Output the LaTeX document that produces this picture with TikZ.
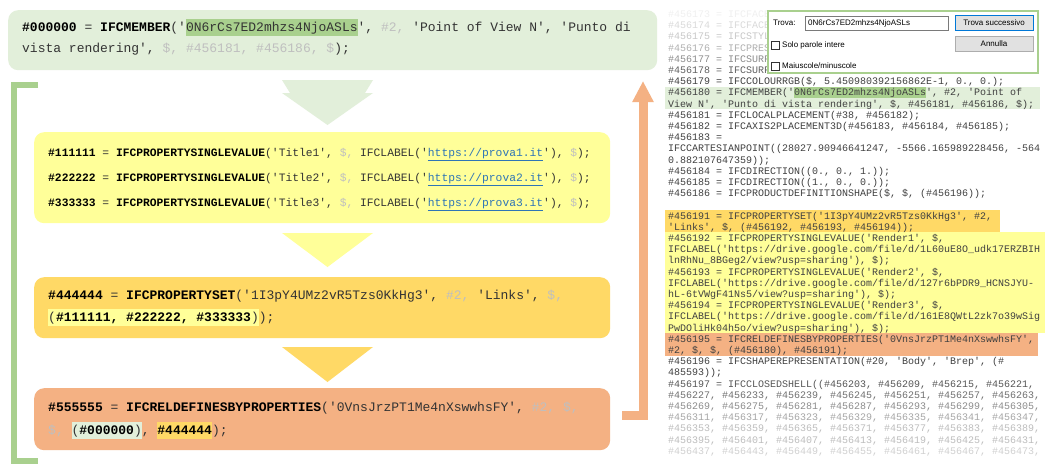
\documentclass[tikz,border=0pt]{standalone}
\usepackage{fontspec}
\setmonofont{Liberation Mono}
\setsansfont{Liberation Sans}
\usetikzlibrary{arrows.meta}

\definecolor{mbrfill}{HTML}{E2EFDA}
\definecolor{mbrmark}{HTML}{A9D08E}
\definecolor{psvfill}{HTML}{FFFF99}
\definecolor{psetfill}{HTML}{FFD966}
\definecolor{relfill}{HTML}{F4B183}
\definecolor{codeink}{HTML}{333333}
\definecolor{dimink}{HTML}{BFBFBF}
\definecolor{linkblue}{HTML}{2E75B6}
\definecolor{panelink}{HTML}{404040}
\definecolor{fadeA}{HTML}{F0F0F0}
\definecolor{fadeB}{HTML}{DADADA}
\definecolor{fadeC}{HTML}{C8C8C8}
\definecolor{fadeD}{HTML}{B0B0B0}
\definecolor{fadeE}{HTML}{8C8C8C}
\definecolor{fadeF}{HTML}{606060}
\definecolor{tailA}{HTML}{555555}
\definecolor{tailB}{HTML}{707070}
\definecolor{tailC}{HTML}{8C8C8C}
\definecolor{tailD}{HTML}{A6A6A6}
\definecolor{tailE}{HTML}{BDBDBD}
\definecolor{tailF}{HTML}{D0D0D0}
\definecolor{tailG}{HTML}{E4E4E4}
\definecolor{winblue}{HTML}{0078D7}
\definecolor{btnface}{HTML}{E1E1E1}
\definecolor{btnedge}{HTML}{ADADAD}
\definecolor{fieldedge}{HTML}{7A7A7A}

% inline helpers for the code snippets
\newcommand\kwd[1]{\textbf{\textcolor{black}{#1}}}
\newcommand\dimtxt[1]{\textcolor{dimink}{#1}}
\newcommand\urltxt[1]{\textcolor{linkblue}{\underline{#1}}}
\newcommand\hlbox[2]{{\setlength{\fboxsep}{0pt}\colorbox{#1}{\rule[-4pt]{0pt}{17pt}#2}}}
\newcommand\pline[4]{\node[pnl, text=#2] (#1) at (668,#3) {#4};}

\tikzset{
  card/.style={rounded corners=10pt, inner sep=0pt, anchor=north west},
  codeL/.style={anchor=base west, inner sep=0pt, text=codeink,
    font=\ttfamily\fontsize{13}{20}\selectfont},
  codeS/.style={anchor=base west, inner sep=0pt, text=codeink,
    font=\ttfamily\fontsize{11.3}{18}\selectfont},
  pnl/.style={anchor=base west, inner sep=0pt,
    font=\ttfamily\fontsize{10}{11}\selectfont},
  greenbar/.style={draw=mbrmark, line width=6pt, line cap=butt, line join=miter},
  orangebar/.style={draw=relfill, line width=9pt, line cap=butt, line join=miter,
    -{Triangle[width=20pt,length=21pt]}},
  dtxt/.style={anchor=west, inner sep=0pt, font=\sffamily\fontsize{8}{9}\selectfont, text=black},
  btn/.style={fill=btnface, line width=0.8pt, minimum width=78pt, minimum height=15pt,
    inner sep=0pt, font=\sffamily\fontsize{8}{9}\selectfont},
  chkbox/.style={draw=black!80, fill=white, line width=0.6pt, minimum size=7.5pt, inner sep=0pt}
}

\begin{document}
\begin{tikzpicture}[x=1pt,y=-1pt]
\useasboundingbox (0,0) rectangle (1049,463);
\fill[white] (0,0) rectangle (1049,463);

% ---------------- left: the chain of entities ----------------
\node[card, fill=mbrfill, minimum width=649pt, minimum height=60pt] (mbr) at (8,10) {};
\node[card, fill=psvfill, minimum width=576pt, minimum height=91pt] (psv) at (34,132) {};
\node[card, fill=psetfill, minimum width=576pt, minimum height=61pt] (pset) at (34,277) {};
\node[card, fill=relfill, minimum width=576pt, minimum height=62pt] (rel) at (34,388) {};

% down chevrons between the cards
\fill[mbrfill] (282,80) -- (373,80) -- (365,93) -- (290,93) -- cycle;
\fill[mbrfill] (282,93) -- (373,93) -- (327.5,125) -- cycle;
\fill[psvfill] (282,233) -- (373,233) -- (327.5,267) -- cycle;
\fill[psetfill] (282,347) -- (373,347) -- (327.5,382) -- cycle;

% bracket on the left
\coordinate (gTop) at (38,85);
\coordinate (gBot) at (38,461);
\draw[greenbar] (gTop) -- ++(-24,0) |- (gBot);

% return arrow on the right
\coordinate (oStart) at (622,415);
\coordinate (oTip) at (643,81);
\draw[orangebar] (oStart) -| (oTip);

% code text
\node[codeL] (mbr1) at (22,31.5) {\kwd{\#000000} = \kwd{IFCMEMBER}('\hlbox{mbrmark}{0N6rCs7ED2mhzs4NjoASLs}', \dimtxt{\#2,} 'Point of View N', 'Punto di};
\node[codeL] (mbr2) at (22,52.5) {vista rendering', \dimtxt{\$, \#456181, \#456186, \$});};

\node[codeS] (psv1) at (48,156) {\kwd{\#111111} = \kwd{IFCPROPERTYSINGLEVALUE}('Title1', \dimtxt{\$,} IFCLABEL('\urltxt{https://prova1.it}'), \dimtxt{\$});};
\node[codeS] (psv2) at (48,181) {\kwd{\#222222} = \kwd{IFCPROPERTYSINGLEVALUE}('Title2', \dimtxt{\$,} IFCLABEL('\urltxt{https://prova2.it}'), \dimtxt{\$});};
\node[codeS] (psv3) at (48,206) {\kwd{\#333333} = \kwd{IFCPROPERTYSINGLEVALUE}('Title3', \dimtxt{\$,} IFCLABEL('\urltxt{https://prova3.it}'), \dimtxt{\$});};

\node[codeL] (pset1) at (48,299.5) {\kwd{\#444444} = \kwd{IFCPROPERTYSET}('1I3pY4UMz2vR5Tzs0KkHg3', \dimtxt{\#2,} 'Links', \dimtxt{\$,}};
\node[codeL] (pset2) at (48,321.5) {\hlbox{psvfill}{(\kwd{\#111111, \#222222, \#333333})});};

\node[codeL] (rel1) at (48,411.5) {\kwd{\#555555} = \kwd{IFCRELDEFINESBYPROPERTIES}('0VnsJrzPT1Me4nXswwhsFY', \dimtxt{\#2, \$,}};
\node[codeL] (rel2) at (48,434.5) {\dimtxt{\$,} \hlbox{mbrfill}{(\kwd{\#000000})}, \hlbox{psetfill}{\kwd{\#444444}});};

% ---------------- right: the file listing ----------------
\fill[mbrfill] (665,86.8) rectangle (1040,109.2);
\fill[mbrmark] (794,87) rectangle (926,98);
\fill[psetfill] (665,209.8) rectangle (1000,232.2);
\fill[psvfill] (665,232.2) rectangle (1045,333.2);
\fill[relfill] (665,333.2) rectangle (1038,355.6);

\pline{r173}{fadeA}{17.4}{\#456173 = IFCFACE}
\pline{r174}{fadeB}{28.6}{\#456174 = IFCFACE}
\pline{r175}{fadeC}{39.8}{\#456175 = IFCSTYL}
\pline{r176}{fadeD}{51.0}{\#456176 = IFCPRES}
\pline{r177}{fadeE}{62.2}{\#456177 = IFCSURF}
\pline{r178}{fadeF}{73.4}{\#456178 = IFCSURF}
\pline{r179}{panelink}{84.6}{\#456179 = IFCCOLOURRGB(\$, 5.450980392156862E-1, 0., 0.);}
\pline{r180}{panelink}{95.8}{\#456180 = IFCMEMBER('0N6rCs7ED2mhzs4NjoASLs', \#2, 'Point of}
\pline{r180b}{panelink}{107.0}{View N', 'Punto di vista rendering', \$, \#456181, \#456186, \$);}
\pline{r181}{panelink}{118.2}{\#456181 = IFCLOCALPLACEMENT(\#38, \#456182);}
\pline{r182}{panelink}{129.4}{\#456182 = IFCAXIS2PLACEMENT3D(\#456183, \#456184, \#456185);}
\pline{r183}{panelink}{140.6}{\#456183 =}
\pline{r183b}{panelink}{151.8}{IFCCARTESIANPOINT((28027.90946641247, -5566.165989228456, -564}
\pline{r183c}{panelink}{163.0}{0.882107647359));}
\pline{r184}{panelink}{174.2}{\#456184 = IFCDIRECTION((0., 0., 1.));}
\pline{r185}{panelink}{185.4}{\#456185 = IFCDIRECTION((1., 0., 0.));}
\pline{r186}{panelink}{196.6}{\#456186 = IFCPRODUCTDEFINITIONSHAPE(\$, \$, (\#456196));}
\pline{r191}{panelink}{219.0}{\#456191 = IFCPROPERTYSET('1I3pY4UMz2vR5Tzs0KkHg3', \#2,}
\pline{r191b}{panelink}{230.2}{'Links', \$, (\#456192, \#456193, \#456194));}
\pline{r192}{panelink}{241.4}{\#456192 = IFCPROPERTYSINGLEVALUE('Render1', \$,}
\pline{r192b}{panelink}{252.6}{IFCLABEL('https://drive.google.com/file/d/1L60uE8O\_udk17ERZBIH}
\pline{r192c}{panelink}{263.8}{lnRhNu\_8BGeg2/view?usp=sharing'), \$);}
\pline{r193}{panelink}{275.0}{\#456193 = IFCPROPERTYSINGLEVALUE('Render2', \$,}
\pline{r193b}{panelink}{286.2}{IFCLABEL('https://drive.google.com/file/d/127r6bPDR9\_HCNSJYU-}
\pline{r193c}{panelink}{297.4}{hL-6tVWgF41Ns5/view?usp=sharing'), \$);}
\pline{r194}{panelink}{308.6}{\#456194 = IFCPROPERTYSINGLEVALUE('Render3', \$,}
\pline{r194b}{panelink}{319.8}{IFCLABEL('https://drive.google.com/file/d/161E8QWtL2zk7o39wSig}
\pline{r194c}{panelink}{331.0}{PwDOliHk04h5o/view?usp=sharing'), \$);}
\pline{r195}{panelink}{342.2}{\#456195 = IFCRELDEFINESBYPROPERTIES('0VnsJrzPT1Me4nXswwhsFY',}
\pline{r195b}{panelink}{353.4}{\#2, \$, \$, (\#456180), \#456191);}
\pline{r196}{panelink}{364.6}{\#456196 = IFCSHAPEREPRESENTATION(\#20, 'Body', 'Brep', (\#}
\pline{r196b}{panelink}{375.8}{485593));}
\pline{r197}{tailA}{387.0}{\#456197 = IFCCLOSEDSHELL((\#456203, \#456209, \#456215, \#456221,}
\pline{r197b}{tailB}{398.2}{\#456227, \#456233, \#456239, \#456245, \#456251, \#456257, \#456263,}
\pline{r197c}{tailC}{409.4}{\#456269, \#456275, \#456281, \#456287, \#456293, \#456299, \#456305,}
\pline{r197d}{tailD}{420.6}{\#456311, \#456317, \#456323, \#456329, \#456335, \#456341, \#456347,}
\pline{r197e}{tailE}{431.8}{\#456353, \#456359, \#456365, \#456371, \#456377, \#456383, \#456389,}
\pline{r197f}{tailE}{443.0}{\#456395, \#456401, \#456407, \#456413, \#456419, \#456425, \#456431,}
\pline{r197g}{tailF}{454.2}{\#456437, \#456443, \#456449, \#456455, \#456461, \#456467, \#456473,}

% ---------------- find dialog ----------------
\node[anchor=north west, draw=mbrmark, fill=white, line width=1.5pt, inner sep=0pt,
  minimum width=270pt, minimum height=62pt] (find) at (767,10) {};
\node[dtxt] (findlbl) at (773,23) {Trova:};
\node[anchor=north west, draw=fieldedge, fill=white, line width=0.6pt, inner sep=0pt,
  minimum width=143pt, minimum height=14pt] (findfield) at (805,16) {};
\node[dtxt] (findval) at (808,23) {0N6rCs7ED2mhzs4NjoASLs};
\node[btn, draw=winblue] (nextbtn) at (994,22.5) {Trova successivo};
\node[btn, draw=btnedge] (cancelbtn) at (994,43.5) {Annulla};
\node[chkbox] (wordchk) at (775.5,45.5) {};
\node[dtxt] (wordlbl) at (782,45) {Solo parole intere};
\node[chkbox] (casechk) at (775.5,66.5) {};
\node[dtxt] (caselbl) at (782,66) {Maiuscole/minuscole};
\end{tikzpicture}
\end{document}
